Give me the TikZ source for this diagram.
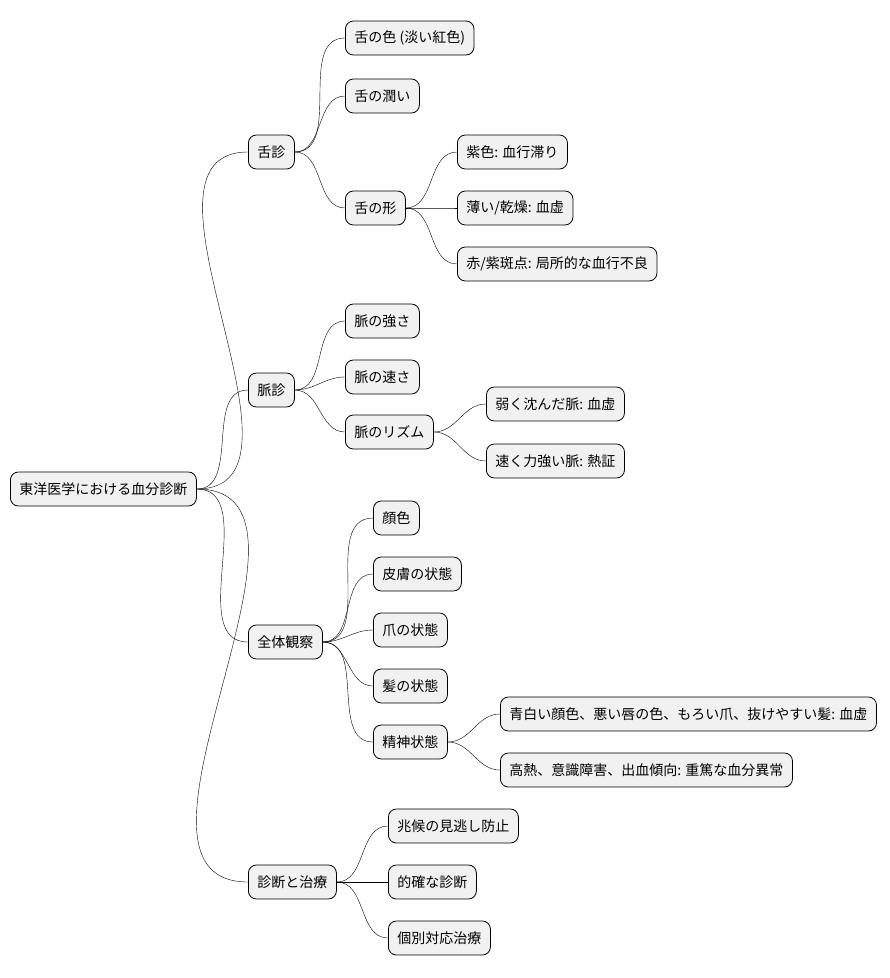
\documentclass[tikz,border=0pt]{standalone}
\usepackage{fontspec}
\setmainfont{Noto Sans CJK JP}
\usetikzlibrary{positioning}
\definecolor{boxgray}{HTML}{F1F1F1}
\tikzset{
  topic/.style={draw=black,fill=boxgray,rounded corners=8pt,line width=0.8pt,
    minimum height=34pt,inner xsep=9pt,anchor=west,font=\fontsize{14}{16}\selectfont},
  branch/.style={line width=0.6pt,out=0,in=180}
}
\begin{document}
\begin{tikzpicture}[x=1pt,y=-1pt]
    \useasboundingbox (0,0) rectangle (890,978);
    \node[topic] (root) at (10,489) {東洋医学における血分診断};
    % tongue
    \node[topic] (tongue) at (248,152) {舌診};
    \node[topic] (tcolor) at (345,38) {舌の色 (淡い紅色)};
    \node[topic] (tmoist) at (345,96) {舌の潤い};
    \node[topic] (tshape) at (345,208) {舌の形};
    \node[topic] (ts1) at (457,152) {紫色: 血行滞り};
    \node[topic] (ts2) at (457,208) {薄い/乾燥: 血虚};
    \node[topic] (ts3) at (457,264) {赤/紫斑点: 局所的な血行不良};
    % pulse
    \node[topic] (pulse) at (248,390) {脈診};
    \node[topic] (pstr) at (345,321) {脈の強さ};
    \node[topic] (pspd) at (345,377) {脈の速さ};
    \node[topic] (prhy) at (345,432) {脈のリズム};
    \node[topic] (pr1) at (486,404) {弱く沈んだ脈: 血虚};
    \node[topic] (pr2) at (486,461) {速く力強い脈: 熱証};
    % whole
    \node[topic] (whole) at (248,642) {全体観察};
    \node[topic] (wface) at (373,518) {顔色};
    \node[topic] (wskin) at (373,574) {皮膚の状態};
    \node[topic] (wnail) at (373,630) {爪の状態};
    \node[topic] (whair) at (373,686) {髪の状態};
    \node[topic] (wmind) at (373,742) {精神状態};
    \node[topic] (wm1) at (500,714) {青白い顔色、悪い唇の色、もろい爪、抜けやすい髪: 血虚};
    \node[topic] (wm2) at (500,770) {高熱、意識障害、出血傾向: 重篤な血分異常};
    % diagnosis
    \node[topic] (diag) at (248,882) {診断と治療};
    \node[topic] (d1) at (388,826) {兆候の見逃し防止};
    \node[topic] (d2) at (388,882) {的確な診断};
    \node[topic] (d3) at (388,938) {個別対応治療};
    \foreach \a/\b in {root/tongue,root/pulse,root/whole,root/diag,
        tongue/tcolor,tongue/tmoist,tongue/tshape,tshape/ts1,tshape/ts2,tshape/ts3,
        pulse/pstr,pulse/pspd,pulse/prhy,prhy/pr1,prhy/pr2,
        whole/wface,whole/wskin,whole/wnail,whole/whair,whole/wmind,wmind/wm1,wmind/wm2,
        diag/d1,diag/d2,diag/d3}
      \draw (\a.east) to[branch] (\b.west);
\end{tikzpicture}
\end{document}
